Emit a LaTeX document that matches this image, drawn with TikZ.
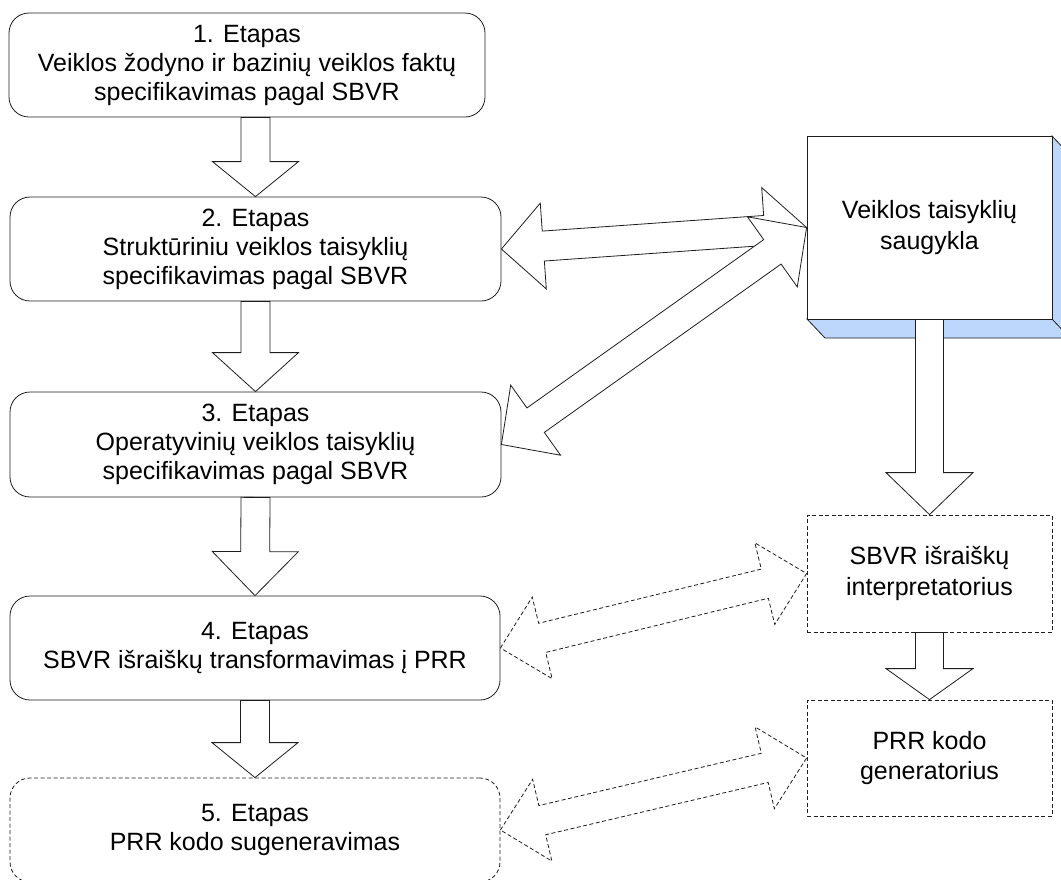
\documentclass[tikz,border=0pt]{standalone}
\usepackage{fontspec}
\setmainfont{Liberation Sans}
\usetikzlibrary{calc}
\definecolor{shadeblue}{RGB}{189,215,252}
\definecolor{edge}{RGB}{30,30,30}

% single block arrow: style, start, tip, shaft half-width, head half-width, head length
\newcommand\blockarrow[6]{%
  \path #2 coordinate (ba-a) #3 coordinate (ba-b);
  \path ($(ba-b)!#6!(ba-a)$) coordinate (ba-h);
  \filldraw[#1] ($(ba-a)!#4!90:(ba-b)$) -- ($(ba-h)!#4!90:(ba-b)$)
    -- ($(ba-h)!#5!90:(ba-b)$) -- (ba-b) -- ($(ba-h)!#5!-90:(ba-b)$)
    -- ($(ba-h)!#4!-90:(ba-b)$) -- ($(ba-a)!#4!-90:(ba-b)$) -- cycle;
}
% double-headed block arrow: style, tip A, tip B, shaft half-width, head half-width, head length
\newcommand\dblarrow[6]{%
  \path #2 coordinate (da-a) #3 coordinate (da-b);
  \path ($(da-a)!#6!(da-b)$) coordinate (da-p) ($(da-b)!#6!(da-a)$) coordinate (da-q);
  \filldraw[#1] (da-a) -- ($(da-p)!#5!90:(da-b)$) -- ($(da-p)!#4!90:(da-b)$)
    -- ($(da-q)!#4!90:(da-b)$) -- ($(da-q)!#5!90:(da-b)$) -- (da-b)
    -- ($(da-q)!#5!-90:(da-b)$) -- ($(da-q)!#4!-90:(da-b)$)
    -- ($(da-p)!#4!-90:(da-b)$) -- ($(da-p)!#5!-90:(da-b)$) -- cycle;
}

\begin{document}
\begin{tikzpicture}[x=1pt,y=-1pt,
  every node/.style={inner sep=0pt, align=center, text=black},
  stage/.style={draw=edge, line width=0.8pt, rounded corners=20pt, fill=white,
    font=\fontsize{25}{29}\selectfont},
  tool/.style={draw=edge, line width=0.8pt, fill=white,
    font=\fontsize{25}{30.5}\selectfont},
  dashline/.style={dash pattern=on 4pt off 2.5pt},
  arrowbox/.style={draw=edge, fill=white, line width=0.8pt},
  dasharrow/.style={draw=edge, fill=white, line width=0.8pt, dash pattern=on 4pt off 2.5pt}]
\useasboundingbox (0,0) rectangle (1061,879);
\clip (0,0) rectangle (1061,879);

% stages
\node[stage, minimum width=476pt, minimum height=104pt] (s1) at (247,65)
  {1. Etapas\\Veiklos žodyno ir bazinių veiklos faktų\\specifikavimas pagal SBVR};
\node[stage, minimum width=491pt, minimum height=104pt] (s2) at (255.5,249)
  {2. Etapas\\Struktūriniu veiklos taisyklių\\specifikavimas pagal SBVR};
\node[stage, minimum width=491pt, minimum height=105pt] (s3) at (255.5,444.5)
  {3. Etapas\\Operatyvinių veiklos taisyklių\\specifikavimas pagal SBVR};
\node[stage, minimum width=490pt, minimum height=104pt] (s4) at (255,648)
  {4. Etapas\\SBVR išraiškų transformavimas į PRR};
\node[stage, dashline, minimum width=490pt, minimum height=104pt] (s5) at (255,830)
  {\raisebox{5pt}{\parbox{480pt}{\centering 5. Etapas\\PRR kodo sugeneravimas}}};

% rule repository with its raised edges
\fill[shadeblue, draw=edge, line width=0.8pt]
  (1052,136) -- (1070,155) -- (1070,338) -- (825,338) -- (807,319) -- (1052,319) -- cycle;
\draw[edge, line width=0.8pt] (1052,319) -- (1070,338);
\node[tool, minimum width=245pt, minimum height=183pt] (store) at (929.5,227.5)
  {Veiklos taisyklių\\saugykla};

% tools
\node[tool, dashline, minimum width=245pt, minimum height=117pt] (int) at (929.5,573.5)
  {SBVR išraiškų\\interpretatorius};
\node[tool, dashline, minimum width=245pt, minimum height=116pt] (gen) at (929.5,758)
  {PRR kodo\\generatorius};

% flow between stages
\blockarrow{arrowbox}{(s2.north |- s1.south)}{(s2.north)}{14.5pt}{43pt}{35pt}
\blockarrow{arrowbox}{(s2.south)}{(s3.north)}{14.5pt}{43pt}{39pt}
\blockarrow{arrowbox}{(s3.south)}{(s4.north)}{14.5pt}{43pt}{44pt}
\blockarrow{arrowbox}{(s4.south)}{(s5.north)}{14.5pt}{43pt}{35pt}

% flow between tools
\blockarrow{arrowbox}{(store.south)}{(int.north)}{14pt}{43.5pt}{42pt}
\blockarrow{arrowbox}{(int.south)}{(gen.north)}{14pt}{43.5pt}{31pt}

% exchanges with the repository and tools
\dblarrow{arrowbox}{(s2.east)}{(store.west)}{15pt}{43pt}{42pt}
\dblarrow{arrowbox}{(s3.east)}{(store.west)}{15pt}{43pt}{42pt}
\dblarrow{dasharrow}{(s4.east)}{(int.west)}{15pt}{42pt}{43pt}
\dblarrow{dasharrow}{(s5.east)}{(gen.west)}{15pt}{42pt}{43pt}
\end{tikzpicture}
\end{document}
